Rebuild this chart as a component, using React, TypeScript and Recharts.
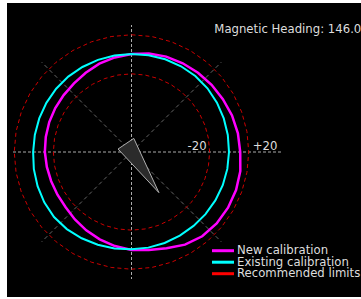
import { RadarChart, Radar, PolarGrid, PolarAngleAxis, PolarRadiusAxis, Customized } from 'recharts';

// compass headings (deg, clockwise from north)
const HEADINGS = [
  0, 10, 20, 30, 40, 50, 60, 70, 80, 90, 100, 110, 120, 130, 140, 150, 160, 170,
  180, 190, 200, 210, 220, 230, 240, 250, 260, 270, 280, 290, 300, 310, 320, 330, 340, 350,
];

// field strength deviation (%) per heading
const NEW_CAL = [
  0.3, 2.4, 3.9, 4.9, 5.9, 7.0, 8.0, 9.5, 10.6, 11.3, 13.1, 13.9, 14.1, 13.8, 12.6, 9.5, 4.9, 1.9,
  0.3, -2.2, -4.8, -7.4, -9.9, -12.0, -12.5, -12.5, -12.0, -11.3, -10.9, -10.4, -9.9, -9.4, -8.4, -6.3, -3.8, -1.7,
];
const EXISTING_CAL = [
  0.3, 0.6, 1.0, 1.3, 1.6, 1.5, 1.0, 0.5, 0.1, -0.2, -0.4, -0.6, -0.9, -1.1, -1.2, -1.1, -0.9, -0.6,
  -0.4, 0.2, 1.0, 2.0, 3.0, 3.5, 3.1, 2.3, 1.5, 0.7, 0.5, 0.5, 0.6, 0.7, 0.7, 0.5, 0.4, 0.3,
];
const LIMIT_LOW = -20;
const LIMIT_HIGH = 20;
const RADIUS_TICKS = [LIMIT_LOW, LIMIT_HIGH];
const HEADING = 146.0;

const LEGEND_ITEMS = [
  { label: 'New calibration', color: '#ff00ff' },
  { label: 'Existing calibration', color: '#00ffff' },
  { label: 'Recommended limits', color: '#ff0000' },
];

const W = 354;
const H = 294;
const CX = 124.5;
const CY = 149;
const OUTER = 127;
const FONT = '"DejaVu Sans", sans-serif';
const TEXT = '#dddddd';

const data = HEADINGS.map((h, i) => ({
  heading: h,
  newCal: NEW_CAL[i],
  existing: EXISTING_CAL[i],
  low: LIMIT_LOW,
  high: LIMIT_HIGH,
}));

function RadiusTick(props: any) {
  const { x, y, payload } = props;
  const v = payload.value;
  const neg = v < 0;
  return (
    <text
      x={neg ? x - 3 : x + 4}
      y={y - 2.5}
      textAnchor={neg ? 'end' : 'start'}
      fill={TEXT}
      fontSize={11.7}
      fontFamily={FONT}
    >
      {neg ? `${v}` : `+${v}`}
    </text>
  );
}

function Overlay() {
  // heading pointer, clockwise from north
  const a = (HEADING * Math.PI) / 180;
  const f = [Math.sin(a), -Math.cos(a)];
  const p = [Math.cos(a), Math.sin(a)];
  const pt = (along: number, side: number) =>
    `${CX + f[0] * along + p[0] * side},${CY + f[1] * along + p[1] * side}`;
  const pointer = [pt(49, 0), pt(-10, 9.5), pt(-10, -9.5)].join(' ');

  return (
    <g>
      <line x1={CX - 118.5} y1={CY} x2={CX + 150} y2={CY} stroke="#aaaaaa" strokeDasharray="3 2" />
      <polygon points={pointer} fill="#2b2b2b" stroke="#b0b0b0" strokeWidth={1} />
      <text x={207.3} y={30.3} fill={TEXT} fontSize={11.7} fontFamily={FONT}>
        Magnetic Heading: {HEADING.toFixed(1)}
      </text>
      {LEGEND_ITEMS.map((item, i) => (
        <g key={item.label}>
          <line x1={205} x2={227} y1={247.7 + i * 11.5} y2={247.7 + i * 11.5} stroke={item.color} strokeWidth={3} />
          <text x={230} y={251 + i * 11.5} fill={TEXT} fontSize={11.7} fontFamily={FONT}>
            {item.label}
          </text>
        </g>
      ))}
    </g>
  );
}

export default function App() {
  return (
    <div style={{ position: 'absolute', left: 7, top: 3, width: W, height: H, background: '#000', overflow: 'hidden' }}>
      <RadarChart
        width={W}
        height={H}
        data={data}
        cx={CX}
        cy={CY}
        outerRadius={OUTER}
        startAngle={90}
        endAngle={-270}
        margin={{ top: 0, right: 0, bottom: 0, left: 0 }}
      >
        <PolarGrid polarRadius={[]} polarAngles={[45, 135, 225, 315]} stroke="#666666" strokeDasharray="4 3" />
        <PolarGrid polarRadius={[]} polarAngles={[90, 270]} stroke="#aaaaaa" strokeDasharray="3 2" />
        <PolarAngleAxis dataKey="heading" tick={false} axisLine={false} />
        <PolarRadiusAxis
          angle={0}
          domain={[-100, 30]}
          ticks={RADIUS_TICKS}
          tick={<RadiusTick />}
          axisLine={false}
          tickLine={false}
        />
        <Radar dataKey="low" stroke="#cc0000" strokeWidth={1} strokeDasharray="4 3" fill="none" fillOpacity={0} dot={false} isAnimationActive={false} />
        <Radar dataKey="high" stroke="#cc0000" strokeWidth={1} strokeDasharray="4 3" fill="none" fillOpacity={0} dot={false} isAnimationActive={false} />
        <Radar dataKey="newCal" stroke="#ff00ff" strokeWidth={2.5} fill="none" fillOpacity={0} dot={false} isAnimationActive={false} />
        <Radar dataKey="existing" stroke="#00ffff" strokeWidth={2} fill="none" fillOpacity={0} dot={false} isAnimationActive={false} />
        <Customized component={<Overlay />} />
      </RadarChart>
    </div>
  );
}
